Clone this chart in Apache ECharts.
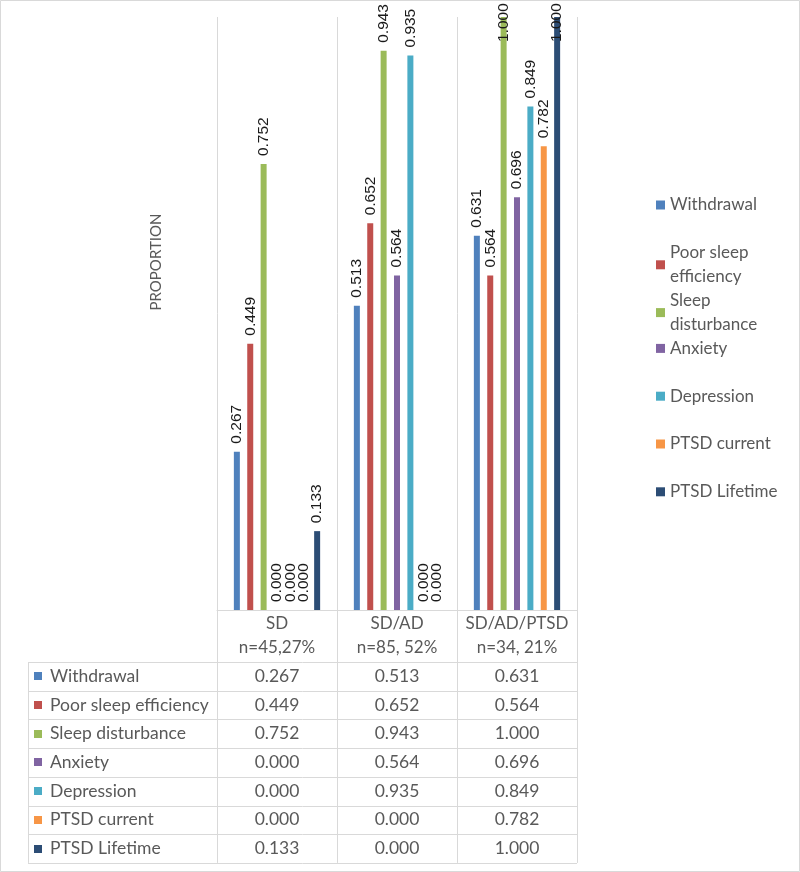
<!DOCTYPE html>
<html>
<head>
<meta charset="utf-8">
<script src="https://cdn.jsdelivr.net/npm/echarts@6/dist/echarts.min.js"></script>
<style>
  html, body { margin: 0; padding: 0; background: #fff; }
  #main { width: 800px; height: 872px; }
</style>
</head>
<body>
<div id="main"></div>
<script>
// categories (x axis) and one array per series
const categories = ['SD\nn=45,27%', 'SD/AD\nn=85, 52%', 'SD/AD/PTSD\nn=34, 21%'];
const seriesNames = ['Withdrawal', 'Poor sleep efficiency', 'Sleep disturbance', 'Anxiety', 'Depression', 'PTSD current', 'PTSD Lifetime'];
const withdrawal = [0.267, 0.513, 0.631];
const poorSleep = [0.449, 0.652, 0.564];
const sleepDisturbance = [0.752, 0.943, 1.000];
const anxiety = [0.000, 0.564, 0.696];
const depression = [0.000, 0.935, 0.849];
const ptsdCurrent = [0.000, 0.000, 0.782];
const ptsdLifetime = [0.133, 0.000, 1.000];
const colors = ['#4F81BD', '#C0504D', '#9BBB59', '#8064A2', '#4BACC6', '#F79646', '#2C4D75'];

const allValues = [withdrawal, poorSleep, sleepDisturbance, anxiety, depression, ptsdCurrent, ptsdLifetime];
// legend wraps the long names on two lines
const legendText = {
  'Poor sleep efficiency': 'Poor sleep\nefficiency',
  'Sleep disturbance': 'Sleep\ndisturbance'
};

const textGray = '#595959';
const lineGray = '#d9d9d9';
const font = 'Lato';

const chart = echarts.init(document.getElementById('main'));

const series = seriesNames.map((name, i) => ({
  name: name,
  type: 'bar',
  barWidth: 6,
  barGap: '123%',
  itemStyle: { color: colors[i] },
  // labels of bars reaching the top sit inside the bar, like the original
  data: allValues[i].map(v => v >= 1 ? { value: v, label: { distance: -25 } } : v),
  label: {
    show: true,
    position: 'top',
    rotate: 90,
    align: 'left',
    verticalAlign: 'middle',
    distance: 8,
    color: '#1a1a1a',
    fontFamily: 'Liberation Sans',
    fontSize: 15.5,
    formatter: p => p.value.toFixed(3)
  }
}));

// one legend per entry so every entry keeps the same slot height
const legends = seriesNames.map((name, i) => ({
  data: [name],
  left: 656,
  top: 205 + 47.8 * i - 12,
  padding: 0,
  orient: 'vertical',
  itemWidth: 9,
  itemHeight: 9,
  icon: 'rect',
  selectedMode: false,
  formatter: n => legendText[n] || n,
  textStyle: { color: textGray, fontFamily: font, fontSize: 17, lineHeight: 24 }
}));

const option = {
  animation: false,
  backgroundColor: '#fff',
  grid: { left: 217, right: 223, top: 17, bottom: 262, outerBoundsMode: 'none' },
  legend: legends,
  xAxis: {
    type: 'category',
    data: categories,
    axisLine: { show: true, lineStyle: { color: lineGray, width: 1 } },
    axisTick: { show: true, interval: 0, length: 52, lineStyle: { color: lineGray } },
    splitLine: { show: true, interval: 0, lineStyle: { color: lineGray } },
    axisLabel: { interval: 0, color: textGray, fontFamily: font, fontSize: 17, lineHeight: 24, margin: 2 }
  },
  yAxis: { type: 'value', min: 0, max: 1, show: false },
  series: series
};
chart.setOption(option);

// data table under the plot, positioned from the category axis
const centers = categories.map(c => chart.convertToPixel({ xAxisIndex: 0 }, c));
const band = centers[1] - centers[0];
const colEdges = [28, centers[0] - band / 2].concat(centers.map(c => c + band / 2));
const tableTop = 662;
const rowH = 28.7;
const tableBottom = tableTop + rowH * seriesNames.length;
const px = v => Math.round(v) + 0.5;

const graphic = [];
graphic.push({
  type: 'rect',
  shape: { x: 0.5, y: 0.5, width: 799, height: 871 },
  style: { fill: 'none', stroke: lineGray, lineWidth: 1 }
});
graphic.push({
  type: 'text',
  x: 156, y: 262,
  rotation: Math.PI / 2,
  style: { text: 'PROPORTION', align: 'center', verticalAlign: 'middle', fill: textGray, font: '15px Lato' }
});
for (let r = 0; r <= seriesNames.length; r++) {
  const y = px(tableTop + rowH * r);
  graphic.push({
    type: 'line',
    shape: { x1: colEdges[0], y1: y, x2: colEdges[colEdges.length - 1], y2: y },
    style: { stroke: lineGray, lineWidth: 1 }
  });
}
colEdges.forEach(x => {
  graphic.push({
    type: 'line',
    shape: { x1: px(x), y1: tableTop, x2: px(x), y2: tableBottom },
    style: { stroke: lineGray, lineWidth: 1 }
  });
});
seriesNames.forEach((name, r) => {
  const cy = tableTop + rowH * (r + 0.5);
  graphic.push({
    type: 'rect',
    shape: { x: 34, y: Math.round(cy - 4), width: 8, height: 8 },
    style: { fill: colors[r] }
  });
  graphic.push({
    type: 'text',
    x: 50, y: cy,
    style: { text: name, align: 'left', verticalAlign: 'middle', fill: textGray, font: '17.5px Lato' }
  });
  centers.forEach((cx, c) => {
    graphic.push({
      type: 'text',
      x: cx, y: cy,
      style: { text: allValues[r][c].toFixed(3), align: 'center', verticalAlign: 'middle', fill: textGray, font: '17.5px Lato' }
    });
  });
});
chart.setOption({ graphic: graphic });
</script>
</body>
</html>
